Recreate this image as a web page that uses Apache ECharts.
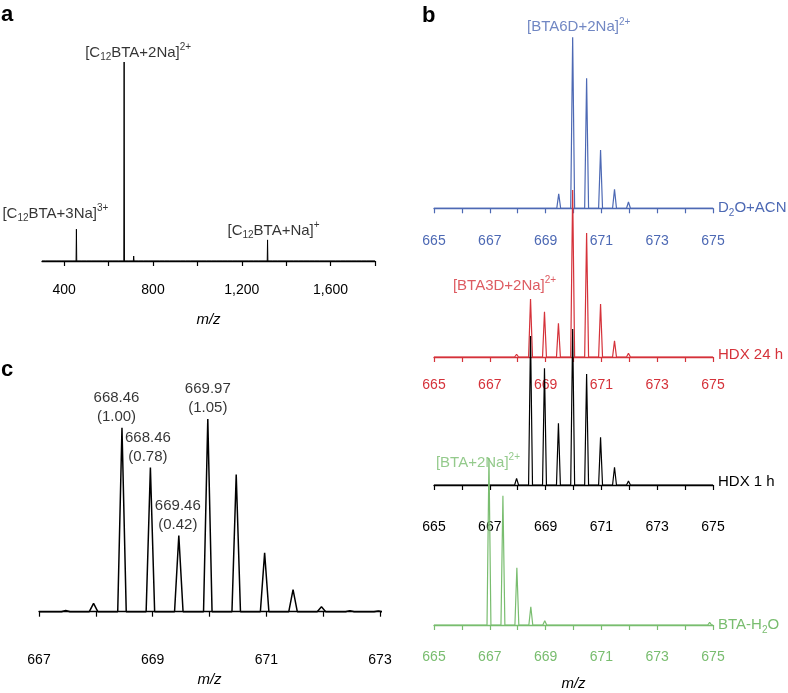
<!DOCTYPE html>
<html>
<head>
<meta charset="utf-8">
<script src="https://cdn.jsdelivr.net/npm/echarts@6/dist/echarts.min.js"></script>
<style>
html, body { margin: 0; padding: 0; background: #fff; }
#chart { width: 788px; height: 693px; }
</style>
</head>
<body>
<div id="chart"></div>
<script>
// ---- panel a: full scan ----
const fullTicks = [400, 600, 800, 1000, 1200, 1400, 1600, 1800];
const fullLabels = [400, 800, 1200, 1600];
const fullPeakMz = [455, 670, 713, 1316];
const fullPeakInt = [16, 100, 2.5, 10.6];
const fullNoiseMz = [318, 342, 365, 391, 414, 437, 478, 502, 526, 549, 573, 597, 621, 645, 690, 736, 759, 783, 806, 830, 853, 877, 901, 924, 948, 971, 995, 1018, 1042, 1066, 1089, 1113, 1136, 1160, 1184, 1207, 1231, 1254, 1278, 1340, 1363, 1387, 1410, 1434, 1458, 1481, 1505, 1528, 1552, 1576, 1599, 1623, 1646, 1670, 1694, 1717, 1741, 1764, 1788];
const fullNoiseInt = [0.3, 0.45, 0.25, 0.55, 0.35, 0.65, 0.4, 0.3, 0.5, 0.35, 0.7, 0.45, 0.6, 0.75, 0.65, 0.55, 0.8, 0.45, 0.6, 0.7, 0.4, 0.65, 0.5, 0.6, 0.35, 0.55, 0.65, 0.45, 0.5, 0.6, 0.4, 0.55, 0.45, 0.65, 0.35, 0.5, 0.6, 0.4, 0.7, 0.6, 0.45, 0.55, 0.35, 0.5, 0.4, 0.6, 0.45, 0.35, 0.5, 0.4, 0.55, 0.3, 0.45, 0.4, 0.5, 0.35, 0.45, 0.3, 0.4];

// ---- panel b: isotope envelopes ----
const zoomTicks = [665, 666, 667, 668, 669, 670, 671, 672, 673, 674, 675];
const zoomLabels = [665, 667, 669, 671, 673, 675];
const acnMz = [669.0, 669.47, 669.97, 670.47, 670.97, 671.47, 671.97, 672.47, 672.97, 673.47];
const acnInt = [0.9, 8.4, 100, 76, 34.1, 11.1, 3.7, 0.6, 0.5, 0.3];
const hdx24Mz = [666.0, 667.0, 667.5, 667.96, 668.46, 668.96, 669.46, 669.97, 670.47, 670.97, 671.47, 671.97, 672.47];
const hdx24Int = [0.3, 0.6, 0.5, 1.6, 33.9, 26.5, 19.7, 97.7, 72.5, 31.0, 9.4, 2.2, 0.4];
const hdx1Mz = [666.0, 666.5, 667.0, 667.47, 667.96, 668.46, 668.96, 669.46, 669.97, 670.47, 670.97, 671.47, 671.97, 672.47, 672.97, 674.0];
const hdx1Int = [0.3, 0.3, 0.5, 0.6, 3.9, 87.1, 68.2, 36.1, 91.2, 64.9, 27.9, 10.4, 2.3, 0.5, 0.3, 0.3];
const h2oMz = [666.0, 666.5, 666.97, 667.47, 667.97, 668.47, 668.97, 669.5, 674.88];
const h2oInt = [0.3, 0.4, 97.7, 75.6, 33.5, 10.7, 2.5, 0.4, 1.5];

// ---- panel c: HDX 1 h close-up ----
const cTicks = [667, 668, 669, 670, 671, 672, 673];
const cLabels = [667, 669, 671, 673];
const cPeakMz = [668.46, 668.96, 669.46, 669.97];
const cPeakText = ['668.46\n(1.00)', '668.46\n(0.78)', '669.46\n(0.42)', '669.97\n(1.05)'];

const BLUE = '#4d69b4', RED = '#d5323a', BLACK = '#000000', GREEN = '#79bd6f';
const FONT = 'Liberation Sans, Arial, Helvetica, sans-serif';

function profile(mz, ints, lo, hi, hw) {
    const idx = mz.map((m, i) => i).filter(i => mz[i] > lo && mz[i] < hi).sort((a, b) => mz[a] - mz[b]);
    const pts = [[lo, 0]];
    idx.forEach(i => {
        pts.push([mz[i] - hw, 0], [mz[i], ints[i]], [mz[i] + hw, 0]);
    });
    pts.push([hi, 0]);
    return pts;
}

function valueAt(mz, ints, m) {
    return ints[mz.indexOf(m)];
}

function rich(color) {
    return {
        n: { fontSize: 15, lineHeight: 20, color: color, fontFamily: FONT },
        sub: { fontSize: 10, lineHeight: 14, verticalAlign: 'bottom', color: color, fontFamily: FONT },
        sup: { fontSize: 10, lineHeight: 14, verticalAlign: 'top', color: color, fontFamily: FONT }
    };
}

// grid layout in px: [left, top, width, height, gap from axis to baseline, px per unit]
const layout = [
    [42, 40, 333, 234, 13, 1.99],     // a
    [39, 380, 341, 260.7, 29, 2.113], // c
    [434, 30, 279, 189, 10.7, 1.71],  // b blue
    [434, 230, 279, 137.3, 10.3, 1.71], // b red
    [434, 380, 279, 131.7, 26.7, 1.71], // b black
    [434, 530, 279, 111, 16, 1.71]    // b green
];

const grids = layout.map(l => ({ left: l[0], top: l[1], width: l[2], height: l[3] }));
const yAxes = layout.map((l, i) => ({
    gridIndex: i, type: 'value', show: false,
    min: -l[4] / l[5], max: (l[3] - l[4]) / l[5]
}));

function xAx(i, min, max, ticks, labels, color, margin, name, nameGap, fmt) {
    return {
        gridIndex: i, type: 'value', min: min, max: max,
        axisLine: { show: true, lineStyle: { color: color, width: 1.3 } },
        axisTick: { show: true, customValues: ticks, length: 5, lineStyle: { color: color, width: 1.2 } },
        axisLabel: { show: true, customValues: labels, margin: margin, color: color, fontSize: 14, fontFamily: FONT,
            formatter: fmt || (v => String(v)) },
        splitLine: { show: false },
        name: name || '', nameLocation: 'middle', nameGap: nameGap || 0,
        nameTextStyle: { fontSize: 15, fontStyle: 'italic', color: '#000', fontFamily: FONT }
    };
}

const xAxes = [
    xAx(0, 300, 1800, fullTicks, fullLabels, BLACK, 9, 'm/z', 38, v => v.toLocaleString('en-US')),
    xAx(1, 667, 673, cTicks, cLabels, BLACK, 12, 'm/z', 32),
    xAx(2, 665, 675, zoomTicks, zoomLabels, BLUE, 15),
    xAx(3, 665, 675, zoomTicks, zoomLabels, RED, 11),
    xAx(4, 665, 675, zoomTicks, zoomLabels, BLACK, 8),
    xAx(5, 665, 675, zoomTicks, zoomLabels, GREEN, 9, 'm/z', 35)
];

function spectrum(i, data, color, width, endText, endOffset) {
    const s = {
        type: 'line', xAxisIndex: i, yAxisIndex: i, data: data,
        symbol: 'none', clip: false, silent: true, z: 3,
        lineStyle: { color: color, width: width }
    };
    if (endText) {
        s.endLabel = { show: true, formatter: endText, distance: 5, offset: endOffset || [0, 0], rich: rich(color) };
    }
    return s;
}

function tag(i, x, y, text, color, dx, dy, dist) {
    return {
        type: 'scatter', xAxisIndex: i, yAxisIndex: i, data: [[x, y]], clip: false,
        symbolSize: 1, itemStyle: { color: 'transparent' }, silent: true, z: 4,
        label: { show: true, position: 'top', distance: dist, offset: [dx, dy], formatter: text, rich: rich(color) }
    };
}

const fullMz = fullPeakMz.concat(fullNoiseMz);
const fullInt = fullPeakInt.concat(fullNoiseInt);

const series = [
    spectrum(0, profile(fullMz, fullInt, 300, 1800, 1.5), BLACK, 1),
    tag(0, 670, valueAt(fullPeakMz, fullPeakInt, 670), '{n|[C}{sub|12}{n|BTA+2Na]}{sup|2+}', BLACK, 14, 1, 0),
    tag(0, 455, valueAt(fullPeakMz, fullPeakInt, 455), '{n|[C}{sub|12}{n|BTA+3Na]}{sup|3+}', BLACK, -21, 0, 5),
    tag(0, 1316, valueAt(fullPeakMz, fullPeakInt, 1316), '{n|[C}{sub|12}{n|BTA+Na]}{sup|+}', BLACK, 6, 1, 0),

    spectrum(2, profile(acnMz, acnInt, 665, 675, 0.07), BLUE, 1.2, '{n|D}{sub|2}{n|O+ACN}'),
    spectrum(3, profile(hdx24Mz, hdx24Int, 665, 675, 0.07), RED, 1.2, '{n|HDX 24 h}', [0, -2]),
    spectrum(4, profile(hdx1Mz, hdx1Int, 665, 675, 0.07), BLACK, 1.2, '{n|HDX 1 h}', [0, -3]),
    spectrum(5, profile(h2oMz, h2oInt, 665, 675, 0.07), GREEN, 1.2, '{n|BTA-H}{sub|2}{n|O}'),
    tag(2, 669.97, valueAt(acnMz, acnInt, 669.97), '{n|[BTA6D+2Na]}{sup|2+}', BLUE, 6, 0, 0),
    tag(3, 668.46, valueAt(hdx24Mz, hdx24Int, 668.46), '{n|[BTA3D+2Na]}{sup|2+}', RED, -26, 0, 3),
    tag(5, 666.97, valueAt(h2oMz, h2oInt, 666.97), '{n|[BTA+2Na]}{sup|2+}', GREEN, -11, 15, 0),

    spectrum(1, profile(hdx1Mz, hdx1Int, 667, 673, 0.075), BLACK, 1.5)
];

const cOffsets = [[-5.5, 0], [-2.5, 0], [-1, 0], [0, 0]];
cPeakMz.forEach((m, k) => {
    series.push({
        type: 'scatter', xAxisIndex: 1, yAxisIndex: 1, clip: false,
        data: [[m, valueAt(hdx1Mz, hdx1Int, m)]],
        symbolSize: 1, itemStyle: { color: 'transparent' }, silent: true, z: 4,
        label: {
            show: true, position: 'top', distance: 1, offset: cOffsets[k],
            formatter: cPeakText[k], fontSize: 15, lineHeight: 19, color: '#000', fontFamily: FONT, align: 'center'
        }
    });
});

const chart = echarts.init(document.getElementById('chart'));
chart.setOption({
    animation: false,
    backgroundColor: '#fff',
    textStyle: { fontFamily: FONT },
    title: [
        { text: 'a', left: 1, top: 4, padding: 0, textStyle: { fontSize: 22, fontWeight: 'bold', color: '#000', fontFamily: FONT } },
        { text: 'b', left: 422, top: 5, padding: 0, textStyle: { fontSize: 22, fontWeight: 'bold', color: '#000', fontFamily: FONT } },
        { text: 'c', left: 1, top: 359, padding: 0, textStyle: { fontSize: 22, fontWeight: 'bold', color: '#000', fontFamily: FONT } }
    ],
    grid: grids,
    xAxis: xAxes,
    yAxis: yAxes,
    series: series
});
</script>
</body>
</html>
